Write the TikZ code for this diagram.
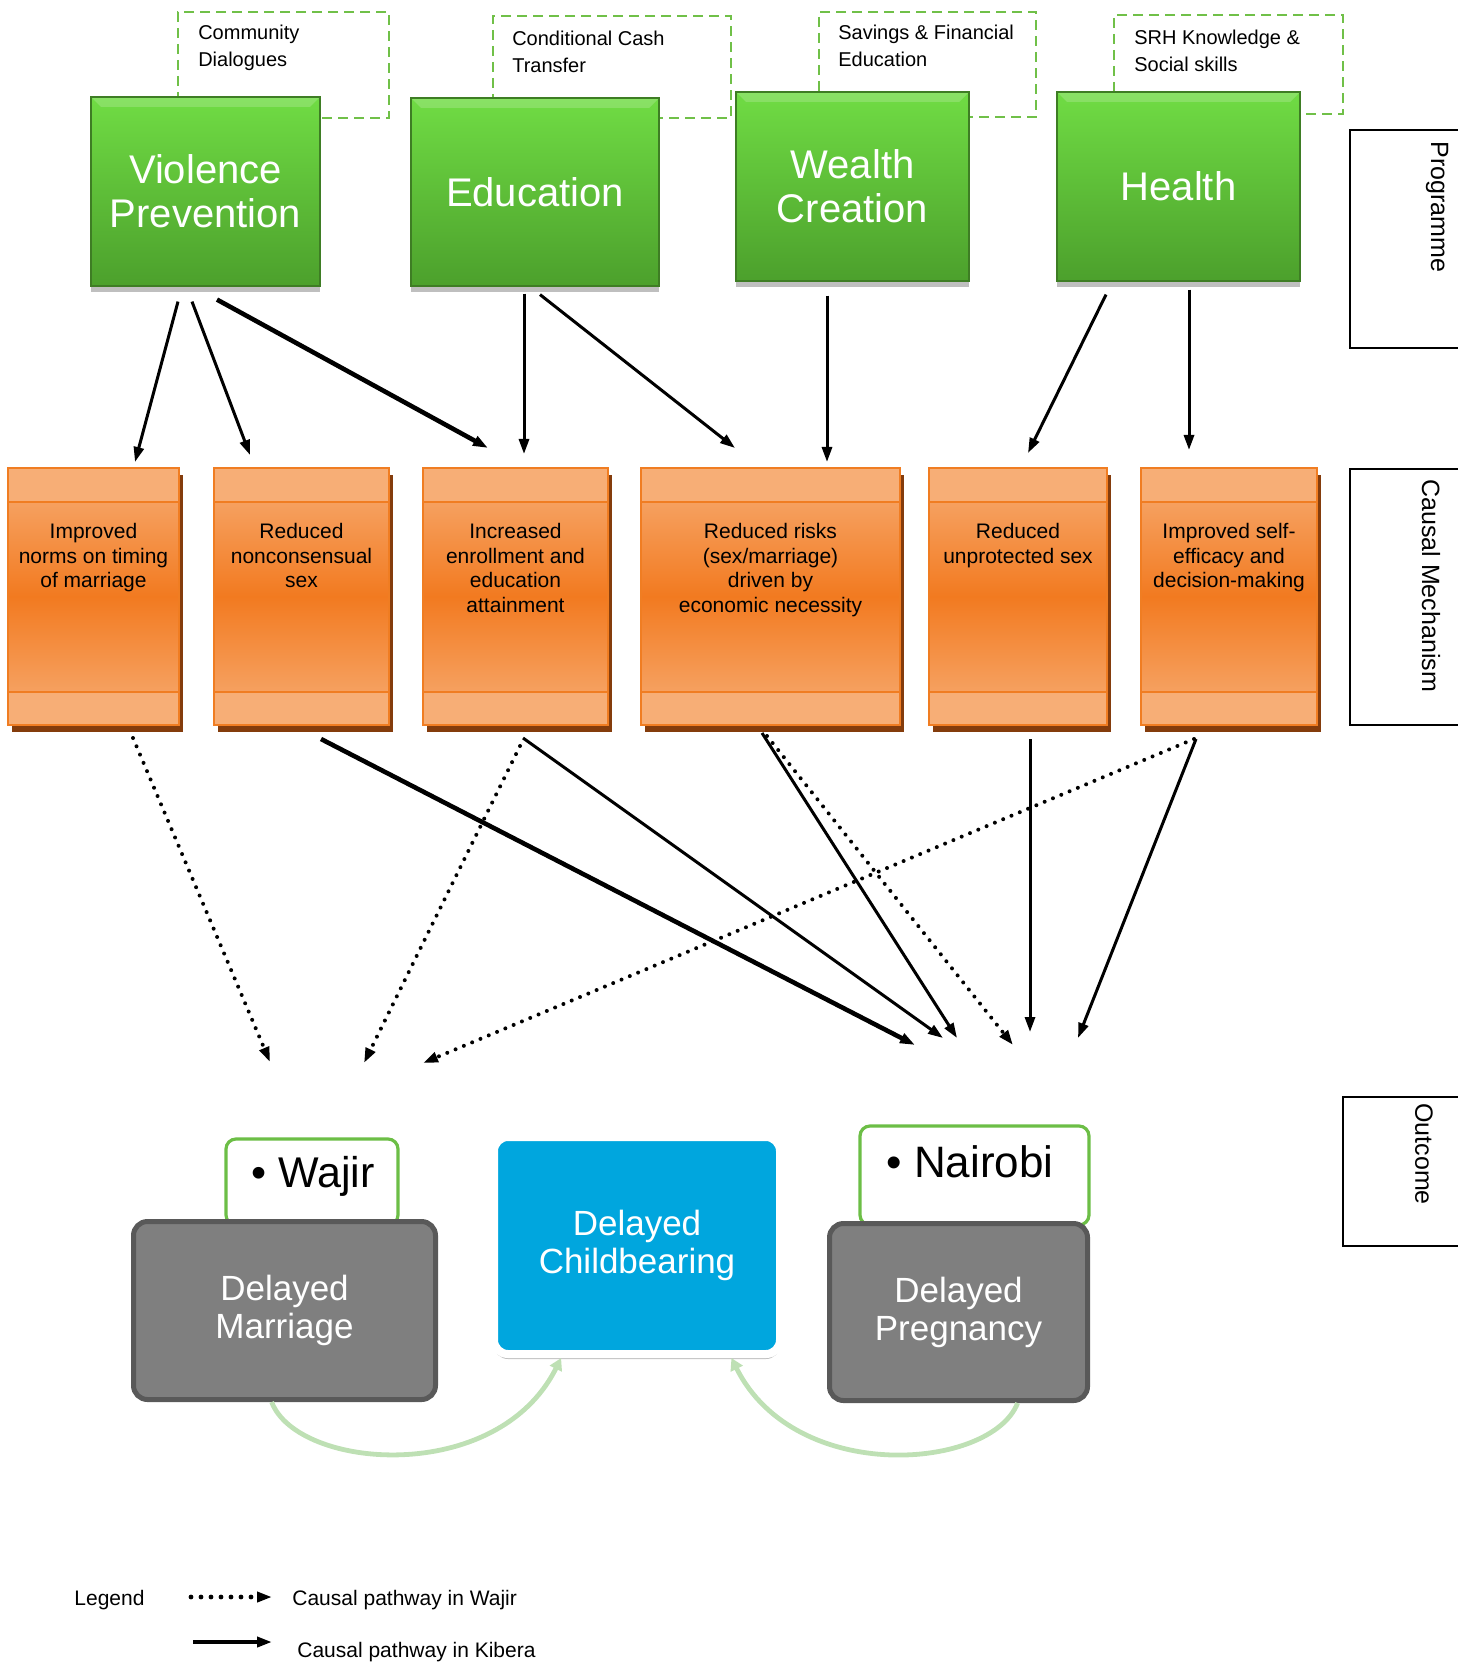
\documentclass[tikz,border=0pt]{standalone}
\usepackage{fontspec}
\setmainfont{Liberation Sans}
\usetikzlibrary{positioning,calc,arrows.meta,shadows}
\definecolor{progtop}{RGB}{112,220,68}
\definecolor{progbot}{RGB}{76,160,44}
\definecolor{progline}{RGB}{62,125,36}
\definecolor{dashgreen}{RGB}{112,192,72}
\definecolor{mechband}{RGB}{247,174,118}
\definecolor{mechline}{RGB}{240,125,34}
\definecolor{mechmid}{RGB}{242,122,32}
\definecolor{mechshadow}{RGB}{132,60,12}
\definecolor{outgray}{RGB}{127,127,127}
\definecolor{outline}{RGB}{89,89,89}
\definecolor{outblue}{RGB}{0,166,222}
\definecolor{tabgreen}{RGB}{108,190,70}
\definecolor{arcgreen}{RGB}{190,224,180}
\tikzset{
  plan/.style={draw=dashgreen, line width=1.1pt, dash pattern=on 5pt off 3pt, inner sep=0pt},
  plantext/.style={inner sep=0pt, align=left, font=\fontsize{10}{13.5}\selectfont},
  prog/.style={draw=progline, line width=0.6pt, top color=progtop, bottom color=progbot,
    text=white, align=center, inner sep=0pt, font=\fontsize{20}{22}\selectfont,
    drop shadow={shadow xshift=0pt, shadow yshift=-3pt, fill=black, opacity=.25},
    path picture={\fill[white, opacity=.18] (path picture bounding box.north west)
      -- (path picture bounding box.north east) -- ++(-5pt,-5pt)
      -- ([shift={(5pt,-5pt)}]path picture bounding box.north west) -- cycle;}},
  mech/.style={draw=mechline, line width=1pt, top color=mechband, bottom color=mechband,
    middle color=mechmid, inner sep=0pt, minimum height=128.5pt,
    drop shadow={shadow xshift=2pt, shadow yshift=-3.5pt, fill=mechshadow, opacity=1},
    path picture={
      \fill[mechband] (path picture bounding box.north west) rectangle ([yshift=-17pt]path picture bounding box.north east);
      \fill[mechband] (path picture bounding box.south west) rectangle ([yshift=16.5pt]path picture bounding box.south east);
      \draw[mechline, line width=1.2pt] ([yshift=-17pt]path picture bounding box.north west) -- ([yshift=-17pt]path picture bounding box.north east);
      \draw[mechline, line width=1.2pt] ([yshift=16.5pt]path picture bounding box.south west) -- ([yshift=16.5pt]path picture bounding box.south east);}},
  mechtext/.style={inner sep=0pt, align=center, font=\fontsize{10.5}{12.25}\selectfont},
  tab/.style={draw=tabgreen, line width=1.6pt, fill=white, rounded corners=5pt, inner sep=0pt},
  tabtext/.style={inner sep=0pt, anchor=base west},
  result/.style={draw=outline, line width=2.5pt, fill=outgray, rounded corners=7pt, text=white,
    align=center, inner sep=0pt, font=\fontsize{17.5}{19}\selectfont},
  sidebox/.style={draw=black, line width=1.1pt, inner sep=0pt},
  sidetext/.style={inner sep=0pt, rotate=-90, anchor=west, font=\fontsize{12.5}{14}\selectfont},
  legtext/.style={inner sep=0pt, anchor=base west, font=\fontsize{10.5}{12}\selectfont},
  arr/.style={-{Triangle[length=7.5pt,width=5pt]}, line width=1.5pt},
  thickarr/.style={arr, line width=2.3pt},
  wajir/.style={arr, line width=2pt, line cap=round, dash pattern=on 0pt off 4.5pt},
  arc/.style={arcgreen, line width=2.4pt, -{Triangle[length=6pt,width=6.5pt]}}
}
\begin{document}
\begin{tikzpicture}[x=0.5pt,y=-0.5pt]
\useasboundingbox (0,0) rectangle (1457,1663);

\node[plan, minimum width=105.5pt, minimum height=53pt] (cd) at (283.5,65) {};
\node[plan, minimum width=119pt, minimum height=51pt] (cct) at (612,67) {};
\node[plan, minimum width=108.5pt, minimum height=52.5pt] (sfe) at (927.5,64.5) {};
\node[plan, minimum width=114.5pt, minimum height=49.5pt] (srh) at (1228.5,64.5) {};
\node[plantext, below right=7pt and 10.5pt of cd.north west] (cdtxt) {Community\\Dialogues};
\node[plantext, below right=8pt and 10pt of cct.north west] (ccttxt) {Conditional Cash\\Transfer};
\node[plantext, below right=7pt and 10pt of sfe.north west] (sfetxt) {Savings \& Financial\\Education};
\node[plantext, below right=8pt and 10.5pt of srh.north west] (srhtxt) {SRH Knowledge \&\\Social skills};

\node[prog, minimum width=114.5pt, minimum height=94.5pt] (vp) at (205.5,191.5) {Violence\\Prevention};
\node[prog, minimum width=124pt, minimum height=94pt] (edu) at (535,192) {Education};
\node[prog, minimum width=116.5pt, minimum height=94.5pt] (wc) at (852.5,186.5) {Wealth\\Creation};
\node[prog, minimum width=121.5pt, minimum height=94.5pt] (hl) at (1178.5,186.5) {Health};

\node[mech, minimum width=85.5pt] (m1) at (93.5,596.5) {};
\node[mech, minimum width=87.5pt] (m2) at (301.5,596.5) {};
\node[mech, minimum width=92.5pt] (m3) at (515.5,596.5) {};
\node[mech, minimum width=129.5pt] (m4) at (770.5,596.5) {};
\node[mech, minimum width=89pt] (m5) at (1018,596.5) {};
\node[mech, minimum width=88pt] (m6) at (1229,596.5) {};
\node[mechtext, below=28pt of m1.north] (m1txt) {Improved\\norms on timing\\of marriage};
\node[mechtext, below=28pt of m2.north] (m2txt) {Reduced\\nonconsensual\\sex};
\node[mechtext, below=28pt of m3.north] (m3txt) {Increased\\enrollment and\\education\\attainment};
\node[mechtext, below=28pt of m4.north] (m4txt) {Reduced risks\\(sex/marriage)\\driven by\\economic necessity};
\node[mechtext, below=28pt of m5.north] (m5txt) {Reduced\\unprotected sex};
\node[mechtext, below=28pt of m6.north] (m6txt) {Improved self-\\efficacy and\\decision-making};

\coordinate (t1) at (135,462);
\coordinate (t2) at (250,455);
\coordinate (t3) at (488,448);
\coordinate (t4) at (524,454);
\coordinate (t5) at (735,448);
\coordinate (t6) at (827,462);
\coordinate (t7) at (1028,453);
\coordinate (t8) at (1189,450);
\draw[arr] ($(vp.south)+(-27.5,15)$) -- (t1);
\draw[arr] ($(vp.south)+(-13.5,15)$) -- (t2);
\draw[thickarr] ($(vp.south)+(11.5,13)$) -- (t3);
\draw[arr] ($(edu.south)+(-11,7)$) -- (t4);
\draw[arr] ($(edu.south)+(5,8)$) -- (t5);
\draw[arr] ($(wc.south)+(-25.5,14)$) -- (t6);
\draw[arr] ($(hl.south)+(-72.5,13)$) -- (t7);
\draw[arr] ($(hl.south)+(10.5,8)$) -- (t8);

\coordinate (w1) at (270,1062);
\coordinate (w2) at (364,1063);
\coordinate (w3) at (423,1063);
\coordinate (w4) at (1013,1045);
\coordinate (k1) at (915,1045);
\coordinate (k2) at (943,1038);
\coordinate (k3) at (957,1038);
\coordinate (k4) at (1030,1032);
\coordinate (k5) at (1078,1038);
\draw[wajir] ($(m1.south)+(39.5,12)$) -- (w1);
\draw[wajir] ($(m3.south)+(4.5,20)$) -- (w2);
\draw[wajir] ($(m6.south)+(-35,13)$) -- (w3);
\draw[wajir] ($(m4.south)+(-3.5,10)$) -- (w4);
\draw[thickarr] ($(m2.south)+(19.5,13)$) -- (k1);
\draw[arr] ($(m3.south)+(7.5,12)$) -- (k2);
\draw[arr] ($(m4.south)+(-8.5,7)$) -- (k3);
\draw[arr] ($(m5.south)+(12,13)$) -- (k4);
\draw[arr] ($(m6.south)+(-33,13)$) -- (k5);

\node[tab, minimum width=86pt, minimum height=43pt] (wajirtab) at (312,1182) {};
\node[tab, minimum width=114.5pt, minimum height=49.5pt] (nairobitab) at (974.5,1175.5) {};
\node[tabtext, font=\fontsize{21.5}{24}\selectfont] (wajirtxt) at (251,1187) {• Wajir};
\node[tabtext, font=\fontsize{22}{24}\selectfont] (nairobitxt) at (886,1177) {• Nairobi};
\node[result, minimum width=151pt, minimum height=89pt] (marr) at (284.5,1310.5) {Delayed\\Marriage};
\node[result, minimum width=129pt, minimum height=88.5pt] (preg) at (958.5,1312) {Delayed\\Pregnancy};
\node[result, draw=white, line width=4pt, fill=outblue, minimum width=143pt, minimum height=108.5pt,
  drop shadow={shadow xshift=0pt, shadow yshift=-2.5pt, fill=black, opacity=.25}] (cb) at (637,1245.5) {Delayed\\Childbearing};

\draw[arc] (marr.-98) .. controls +(26,68) and +(-64,128) .. (cb.-124);
\draw[arc] (preg.-57) .. controls +(-26,67) and +(64,128) .. (cb.-50);

\node[sidebox, minimum width=60pt, minimum height=109pt] (progbox) at (1410,239) {};
\node[sidebox, minimum width=60pt, minimum height=128pt] (mechbox) at (1410,597) {};
\node[sidebox, minimum width=63.5pt, minimum height=74.5pt] (outbox) at (1406.5,1171.5) {};
\node[sidetext] (progtxt) at (1437,141) {Programme};
\node[sidetext] (mechtxt) at (1431,479) {Causal Mechanism};
\node[sidetext] (outtxt) at (1424,1103) {Outcome};

\node[legtext] (leg) at (74,1605) {Legend};
\node[legtext] (legw) at (292,1605) {Causal pathway in Wajir};
\node[legtext] (legk) at (297,1657) {Causal pathway in Kibera};
\coordinate (lw1) at (191,1597);
\coordinate (lw2) at (272,1597);
\coordinate (lk1) at (193,1642);
\coordinate (lk2) at (272,1642);
\draw[wajir, line width=2.4pt, dash pattern=on 0pt off 5pt] (lw1) -- (lw2);
\draw[thickarr] (lk1) -- (lk2);
\end{tikzpicture}
\end{document}
